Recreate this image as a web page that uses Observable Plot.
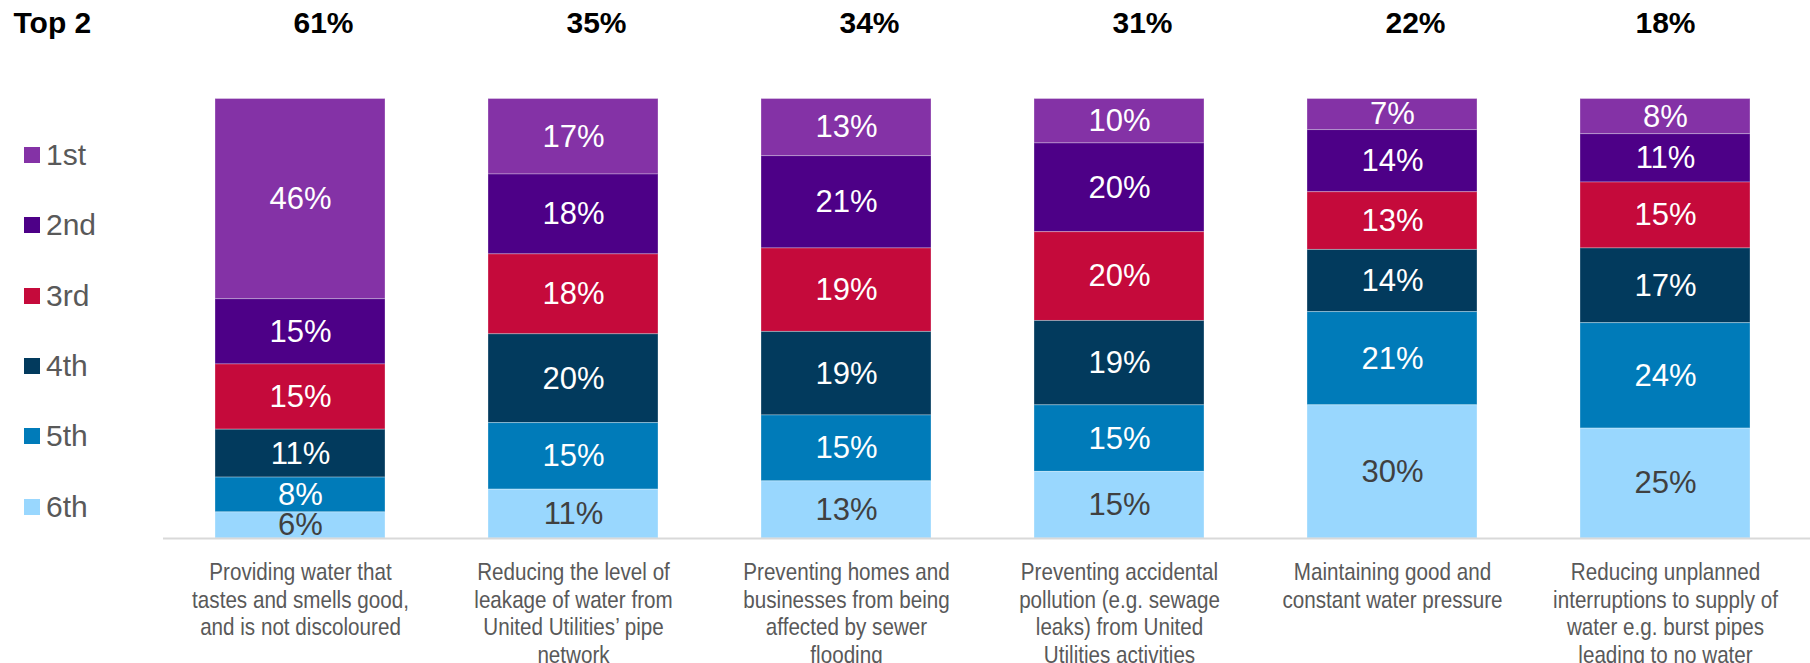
<!DOCTYPE html>
<html>
<head>
<meta charset="utf-8">
<script src="https://cdn.jsdelivr.net/npm/d3@7"></script>
<script src="https://cdn.jsdelivr.net/npm/@observablehq/plot@0.6"></script>
<style>
  html, body { margin: 0; padding: 0; background: #fff; }
  #wrap { position: relative; width: 1810px; height: 663px; overflow: hidden; font-family: "Liberation Sans", Arial, sans-serif; }
  #wrap svg { display: block; }
  #legend { position: absolute; left: 0; top: 120px; }
  .row { display: flex; align-items: center; height: 70.3px; }
  .sw { width: 16px; height: 16px; margin-left: 24px; }
  .lb { margin-left: 6px; font-size: 30px; color: #595959; line-height: 1; }
</style>
</head>
<body>
<div id="wrap"></div>
<script>
const categories = [
  "Providing water that\ntastes and smells good,\nand is not discoloured",
  "Reducing the level of\nleakage of water from\nUnited Utilities’ pipe\nnetwork",
  "Preventing homes and\nbusinesses from being\naffected by sewer\nflooding",
  "Preventing accidental\npollution (e.g. sewage\nleaks) from United\nUtilities activities",
  "Maintaining good and\nconstant water pressure",
  "Reducing unplanned\ninterruptions to supply of\nwater e.g. burst pipes\nleading to no water"
];
const ranks = ["1st", "2nd", "3rd", "4th", "5th", "6th"];
const rankColors = ["#8432A6", "#4D0087", "#C50A3B", "#023A5D", "#007BB9", "#99D7FE"];
const first  = [46, 17, 13, 10, 7, 8];
const second = [15, 18, 21, 20, 14, 11];
const third  = [15, 18, 19, 20, 13, 15];
const fourth = [11, 20, 19, 19, 14, 17];
const fifth  = [8, 15, 15, 15, 21, 24];
const sixth  = [6, 11, 13, 15, 30, 25];
const top2   = [61, 35, 34, 31, 22, 18];
const headerLabel = "Top 2";

const series = [first, second, third, fourth, fifth, sixth];
const data = [];
categories.forEach((c, i) => {
  ranks.forEach((r, j) => data.push({cat: c, rank: r, value: series[j][i]}));
});
const headerData = categories.map((c, i) => ({cat: c, v: top2[i], last: i === categories.length - 1}));
const font = "Liberation Sans, Arial, sans-serif";

const stackOpts = {x: "cat", y: "value", z: "rank", order: ranks.slice().reverse(), offset: "normalize"};
const headerStyle = {frameAnchor: "top", lineAnchor: "bottom", dy: -66.5, fontSize: 30, fontWeight: "bold", fill: "#000"};

const main = Plot.plot({
  width: 1810, height: 663,
  marginTop: 98.5, marginBottom: 125, marginLeft: 163, marginRight: 0,
  style: {fontFamily: font, background: "white", overflow: "visible"},
  x: {domain: categories, range: [163, 1801.6], paddingInner: 0.3775, paddingOuter: 0.18875, axis: null},
  y: {axis: null},
  color: {domain: ranks, range: rankColors},
  marks: [
    Plot.barY(data, Plot.stackY({...stackOpts, fill: "rank", stroke: "white", strokeOpacity: 0.3, strokeWidth: 1})),
    Plot.ruleY([0], {stroke: "#D9D9D9", strokeWidth: 2}),
    Plot.text(data, Plot.stackY({...stackOpts, text: d => d.rank === "6th" ? "" : d.value + "%", fill: "white", fontSize: 31})),
    Plot.text(data, Plot.stackY({...stackOpts, text: d => d.rank === "6th" ? d.value + "%" : "", fill: "#404040", fontSize: 31})),
    Plot.text(categories, {x: d => d, text: d => d, frameAnchor: "bottom", lineAnchor: "top", dy: 22, lineHeight: 1.15, fontSize: 24, fill: "#595959", className: "catlabel"}),
    Plot.text([headerLabel], {...headerStyle, frameAnchor: "top-left", textAnchor: "start", dx: -150}),
    Plot.text(headerData, {...headerStyle, x: "cat", text: d => d.last ? "" : d.v + "%", dx: 23}),
    Plot.text(headerData, {...headerStyle, x: "cat", text: d => d.last ? d.v + "%" : "", dx: 0})
  ]
});

// condensed look for the category labels (as in the reference's narrow face)
main.querySelectorAll(".catlabel text").forEach(t => {
  const tr = t.getAttribute("transform") || "";
  t.setAttribute("transform", tr + " scale(0.86,1)");
});

const wrap = document.getElementById("wrap");
wrap.appendChild(main);

const legend = document.createElement("div");
legend.id = "legend";
ranks.forEach((r, i) => {
  const row = document.createElement("div");
  row.className = "row";
  const sw = document.createElement("div");
  sw.className = "sw";
  sw.style.background = rankColors[i];
  const lb = document.createElement("span");
  lb.className = "lb";
  lb.textContent = r;
  row.appendChild(sw);
  row.appendChild(lb);
  legend.appendChild(row);
});
wrap.appendChild(legend);
</script>
</body>
</html>
